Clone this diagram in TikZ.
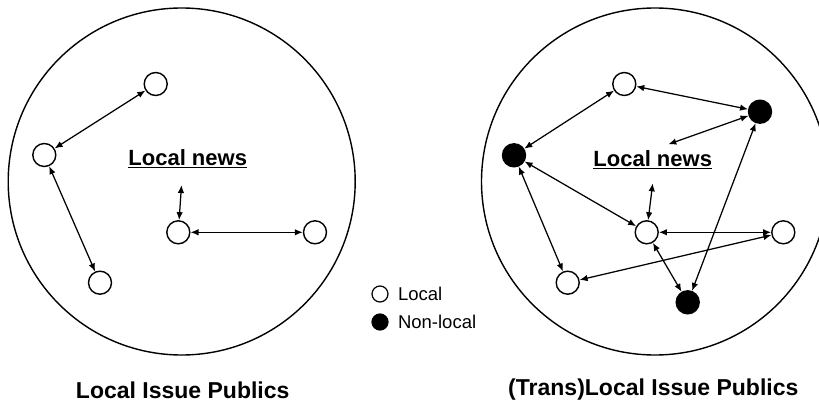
\documentclass[tikz,border=0pt]{standalone}
\usepackage{fontspec}
\setmainfont{Liberation Sans}
\usetikzlibrary{arrows.meta}
\begin{document}
\begin{tikzpicture}[x=1pt,y=-1pt,
  big/.style={draw,circle,line width=1.4pt,minimum size=347pt,inner sep=0pt},
  loc/.style={draw,circle,fill=white,line width=1.4pt,minimum size=23pt,inner sep=0pt},
  nonloc/.style={draw,circle,fill=black,line width=1.4pt,minimum size=23pt,inner sep=0pt},
  legloc/.style={draw,circle,fill=white,line width=1.2pt,minimum size=16pt,inner sep=0pt},
  legnon/.style={draw,circle,fill=black,line width=1.2pt,minimum size=16pt,inner sep=0pt},
  link/.style={{Latex[length=8pt,width=6.5pt]}-{Latex[length=8pt,width=6.5pt]},line width=1.25pt},
  news/.style={font=\fontsize{22}{26}\selectfont\bfseries},
  ttl/.style={font=\fontsize{23}{27}\selectfont\bfseries},
  leg/.style={font=\fontsize{18.5}{22}\selectfont,anchor=west}
]
\useasboundingbox (0,0) rectangle (819,406);
% left panel
\node[big] (LC) at (181.7,181.5) {};
\node[loc] (A) at (155.7,84) {};
\node[loc] (B) at (44.3,155) {};
\node[loc] (C) at (100,282.7) {};
\node[loc] (D) at (178.3,232.3) {};
\node[loc] (E) at (315,232.3) {};
\node[news] (LN) at (187.7,158.3) {\underline{Local news}};
\coordinate (ln1) at (181.5,185);
\draw[link] (A) -- (B);
\draw[link] (B) -- (C);
\draw[link] (ln1) -- (D);
\draw[link] (D) -- (E);
\node[ttl] (LT) at (182.7,390) {Local Issue Publics};
% legend
\node[legloc] (LG1) at (380,294) {};
\node[leg] (LG1t) at (394.5,294) {Local};
\node[legnon] (LG2) at (380,322) {};
\node[leg] (LG2t) at (394.5,322) {Non-local};
% right panel
\node[big] (RC) at (655,181.5) {};
\node[loc] (R1) at (624.3,84) {};
\node[nonloc] (R2) at (760,111.7) {};
\node[nonloc] (R3) at (514,155.3) {};
\node[loc] (R4) at (646.7,232.3) {};
\node[loc] (R5) at (783.3,232.3) {};
\node[loc] (R6) at (567.7,282.7) {};
\node[nonloc] (R7) at (687.7,302.3) {};
\node[news] (RN) at (652.7,159.3) {\underline{Local news}};
\coordinate (rn1) at (668.3,144.3);
\coordinate (rn2) at (652.7,183.3);
\draw[link] (R1) -- (R3);
\draw[link] (R1) -- (R2);
\draw[link] (rn1) -- (R2);
\draw[link] (R3) -- (R4);
\draw[link] (R3) -- (R6);
\draw[link] (R4) -- (R5);
\draw[link] (R4) -- (R7);
\draw[link] (R2) -- (R7);
\draw[link] (R6) -- (R5);
\draw[link] (rn2) -- (R4);
\node[ttl] (RT) at (653.3,390) {(Trans)Local Issue Publics};
\end{tikzpicture}
\end{document}
